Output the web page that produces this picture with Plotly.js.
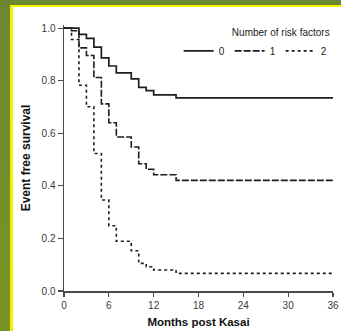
<!DOCTYPE html>
<html>
<head>
<meta charset="utf-8">
<script src="https://cdn.plot.ly/plotly-3.0.1.min.js"></script>
<style>
  html, body { margin: 0; padding: 0; width: 341px; height: 331px; overflow: hidden;
    background: linear-gradient(180deg, #6c8731 0%, #73902a 60%, #7a9320 100%); }
  #frame { position: absolute; left: 10px; top: 5px; width: 331px; height: 326px;
    border-left: 3px solid #f4f000; border-top: 2px solid #f4f000; background: #fff; }
  #chart { width: 328px; height: 324px; }
</style>
</head>
<body>
<div id="frame"><div id="chart"></div></div>
<script>
// Kaplan-Meier step data (months post Kasai, event free survival)
const months0 = [0, 2, 3, 4, 5, 6, 7, 9, 10, 11, 12, 15, 36];
const surv0   = [1, 0.976, 0.961, 0.928, 0.887, 0.856, 0.830, 0.807, 0.775, 0.762, 0.746, 0.735, 0.735];

const months1 = [0, 1, 2, 3, 4, 5, 6, 7, 9, 10, 11, 12, 15, 36];
const surv1   = [1, 0.990, 0.925, 0.896, 0.812, 0.712, 0.640, 0.586, 0.548, 0.484, 0.463, 0.442, 0.421, 0.421];

const months2 = [0, 1, 2, 3, 4, 5, 6, 7, 9, 10, 11, 12, 15, 36];
const surv2   = [1, 0.957, 0.783, 0.701, 0.523, 0.346, 0.248, 0.189, 0.153, 0.105, 0.092, 0.080, 0.067, 0.067];

const seriesNames = ['0', '1', '2'];
const xTicks = [0, 6, 12, 18, 24, 30, 36];
const yTicks = [0, 0.2, 0.4, 0.6, 0.8, 1.0];

const lineColor = '#1e1e1e';
const axisColor = '#4a4a4a';
const font = 'Liberation Sans, Arial, sans-serif';

const traces = [
  { x: months0, y: surv0, name: seriesNames[0], mode: 'lines',
    line: { shape: 'hv', color: lineColor, width: 1.7, dash: 'solid' } },
  { x: months1, y: surv1, name: seriesNames[1], mode: 'lines',
    line: { shape: 'hv', color: lineColor, width: 1.6, dash: '7px,2px' } },
  { x: months2, y: surv2, name: seriesNames[2], mode: 'lines',
    line: { shape: 'hv', color: lineColor, width: 1.6, dash: '3px,3px' } }
];

const layout = {
  width: 328, height: 324,
  margin: { l: 51, r: 8, t: 18, b: 40, pad: 0 },
  paper_bgcolor: '#ffffff', plot_bgcolor: '#ffffff',
  font: { family: font, size: 10, color: '#333' },
  showlegend: true,
  legend: {
    orientation: 'h', x: 0.995, xanchor: 'right', y: 1.006, yanchor: 'top',
    bgcolor: 'rgba(0,0,0,0)', font: { family: font, size: 10, color: '#222' },
    title: { text: 'Number of risk factors', side: 'top right', font: { family: font, size: 10, color: '#222' } },
    itemwidth: 30, tracegroupgap: 0
  },
  xaxis: {
    range: [0, 36], tickvals: xTicks, ticktext: xTicks.map(String),
    showgrid: false, zeroline: false, showline: true, linecolor: axisColor, linewidth: 1.5,
    ticks: 'outside', ticklen: 4, tickwidth: 1.2, tickcolor: axisColor,
    tickfont: { family: font, size: 10, color: '#3a3a3a' },
    title: { text: '<b>Months post Kasai</b>', font: { family: font, size: 11.5, color: '#111' }, standoff: 8 },
    automargin: false, fixedrange: true
  },
  yaxis: {
    range: [0, 1.012], tickvals: yTicks, tickformat: '.1f',
    showgrid: false, zeroline: false, showline: true, linecolor: axisColor, linewidth: 1.5,
    ticks: 'outside', ticklen: 5, tickwidth: 1.2, tickcolor: axisColor,
    tickfont: { family: font, size: 10, color: '#3a3a3a' },
    title: { text: '<b>Event free survival</b>', font: { family: font, size: 12, color: '#111' }, standoff: 8 },
    automargin: false, fixedrange: true
  }
};

Plotly.newPlot('chart', traces, layout, { staticPlot: true, displayModeBar: false });
</script>
</body>
</html>
